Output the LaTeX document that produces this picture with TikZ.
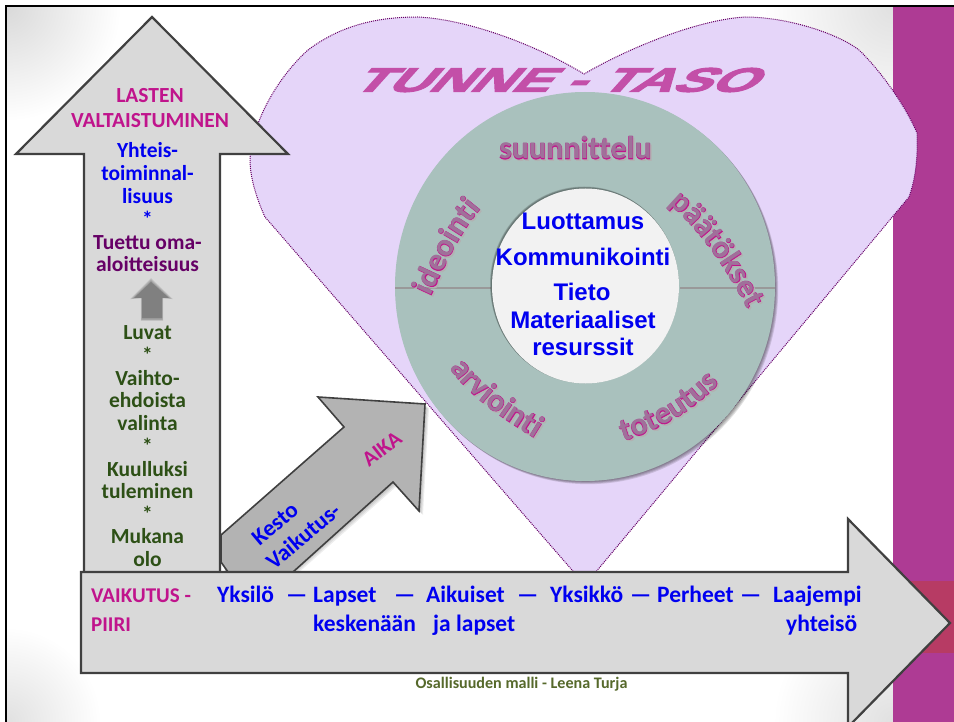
\documentclass[tikz,border=0pt]{standalone}
\usepackage{fontspec}
\usetikzlibrary{decorations.text}
\setmainfont{Carlito}
\newfontfamily\arialf{Liberation Sans}
\newfontfamily\titlef{Liberation Sans}[BoldFeatures={FakeBold=3}]
\newfontfamily\ringfat{Carlito}[BoldFeatures={FakeBold=2.0}]
\newfontfamily\ringthin{Carlito}
\definecolor{magA}{HTML}{C0148C}
\definecolor{purpA}{HTML}{660066}
\definecolor{greenA}{HTML}{2D5016}
\definecolor{blueA}{HTML}{0000F0}
\definecolor{bandA}{HTML}{AE3B94}
\definecolor{bandB}{HTML}{B73B64}
\definecolor{heartF}{HTML}{E5D5F9}
\definecolor{ringF}{HTML}{A9C1BD}
\definecolor{shaftF}{HTML}{D9D9D9}
\definecolor{edgeA}{HTML}{404040}
\definecolor{diagF}{HTML}{B3B3B3}
\definecolor{titleC}{HTML}{C34FA8}
\definecolor{ringTxt}{HTML}{A0709A}
\definecolor{creditC}{HTML}{56692B}
\tikzset{
  bigarrow/.style={fill=shaftF,draw=edgeA,line width=2.2pt,line join=miter},
  lbl/.style={font=\bfseries\fontsize{21.5}{24}\selectfont,align=center,inner sep=0pt,anchor=center},
  lblb/.style={font=\bfseries\fontsize{21.5}{24}\selectfont,inner sep=0pt,anchor=base},
  lblh/.style={font=\bfseries\fontsize{23.5}{26}\selectfont,inner sep=0pt,anchor=base west,text=blueA},
  lblv/.style={font=\bfseries\fontsize{21}{24}\selectfont,inner sep=0pt,anchor=base west,text=magA},
  lbld/.style={font=\bfseries\fontsize{23}{26}\selectfont,inner sep=0pt,anchor=center,text=blueA,rotate=40},
  ctr/.style={font=\arialf\bfseries\fontsize{24}{26}\selectfont,text=blueA,inner sep=0pt,anchor=center},
}
\newcommand{\ringlabel}[2]{%
  \path[xshift=1.5pt,yshift=-1.5pt,decorate,decoration={text along path,text align=center,
     text={|\ringfat\bfseries\fontsize{32}{34}\selectfont\color{black!30}|#2}}] #1;
  \path[decorate,decoration={text along path,text align=center,
     text={|\ringfat\bfseries\fontsize{32}{34}\selectfont\color{magA}|#2}}] #1;
  \path[decorate,decoration={text along path,text align=center,
     text={|\ringthin\bfseries\fontsize{32}{34}\selectfont\color{ringTxt}|#2}}] #1;
}
\begin{document}
\begin{tikzpicture}[x=1pt,y=-1pt]
\useasboundingbox (0,0) rectangle (954,722);
\fill[white] (0,0) rectangle (954,722);
\begin{scope}
\clip (6,6) rectangle (893,722);
\shade[inner color=black!15,outer color=white] (6,6) circle (115);
\shade[inner color=black!12,outer color=white] (893,6) circle (130);
\shade[inner color=black!12,outer color=white] (6,722) circle (95);
\shade[inner color=black!12,outer color=white] (893,722) circle (120);
\end{scope}
\fill[bandA] (893,6) rectangle (954,722);
\fill[bandB] (893,581) rectangle (954,653);
\draw[black,line width=2.6pt] (6,722) -- (6,6) -- (954,6);
% heart
\path[fill=heartF,draw=purpA,densely dotted,line width=1pt]
  (585,585) -- (265,217)
  .. controls (255,195) and (250,175) .. (250,160)
  .. controls (252,120) and (280,75) .. (308,50)
  .. controls (345,22) and (385,17) .. (418,17)
  .. controls (475,20) and (545,50) .. (584,74)
  .. controls (625,50) and (695,20) .. (745,17)
  .. controls (790,17) and (840,35) .. (859,50)
  .. controls (880,70) and (905,105) .. (917,133)
  .. controls (918,160) and (915,180) .. (909,197)
  -- cycle;
% title
\node[inner sep=0pt,text=titleC,font=\titlef\bfseries\fontsize{34}{34}\selectfont,
      xslant=.9,xscale=1.68,transform shape] (title) at (562,80) {TUNNE - TASO};
% ring
\foreach \o in {1,2,3,4}{\fill[black,opacity=.12] (585+\o*.8,286.5+\o*.8) ellipse [x radius=190,y radius=194.5];}
\fill[ringF] (585,286.5) ellipse [x radius=190,y radius=194.5];
\draw[black!40,line width=1.4pt] (395,288) -- (491,288) (680,288) -- (775,288);
\foreach \o in {1,2,3}{\fill[black,opacity=.15] (585.5-\o*.5,286-\o*.5) ellipse [x radius=94,y radius=98];}
\fill[white!95!black] (585.5,286) ellipse [x radius=93.5,y radius=97.5];
% ring labels
\ringlabel{(475,159) -- (676,159)}{suunnittelu}
\ringlabel{(430,298) .. controls (444,268) and (458,235) .. (482,207)}{ideointi}
\ringlabel{(668,203) .. controls (695,225) and (725,265) .. (748,310)}{päätökset}
\ringlabel{(446,362) .. controls (465,395) and (505,420) .. (541,442)}{arviointi}
\ringlabel{(617,443) .. controls (658,432) and (696,410) .. (724,378)}{toteutus}
% centre
\node[ctr] (c1) at (583,221) {Luottamus};
\node[ctr] (c2) at (583,257) {Kommunikointi};
\node[ctr] (c3) at (582,292) {Tieto};
\node[ctr] (c4) at (583,320) {Materiaaliset};
\node[ctr] (c5) at (583,347) {resurssit};
% diagonal arrow
\foreach \o in {1,2,3,4}{\fill[black,opacity=.07] (221+\o,535+\o) -- (344+\o,427+\o) -- (318+\o,397+\o) -- (425+\o,404+\o) -- (419+\o,511+\o) -- (393+\o,482+\o) -- (293+\o,570+\o) -- (225,572) -- cycle;}
\path[fill=diagF,draw=edgeA,line width=1.6pt,line join=miter]
  (221,535) -- (344,427) -- (318,397) -- (425,404) -- (419,511) -- (393,482) -- (293,572) -- (228,572) -- (221,562) -- cycle;
\node[lbld] (kesto) at (275,524) {Kesto};
\node[lbld] (vaik) at (303,536) {Vaikutus-};
\node[lbl,text=magA,rotate=38] (aika) at (382,449) {AIKA};
% up arrow
\path[bigarrow] (84,573) -- (84,154) -- (16,154) -- (152,17) -- (288,154) -- (220,154) -- (220,573) -- cycle;
\foreach \o in {1,2,3,4}{\fill[black,opacity=.08] (142-\o*.3,319+\o*.5) -- (142-\o*.3,298) -- (134-\o,298+\o*.3) -- (151,282-\o) -- (169+\o,298+\o*.3) -- (162+\o*.3,298) -- (162+\o*.3,319+\o*.5) -- cycle;}
\fill[black!50] (142,318) -- (142,298) -- (134,298) -- (151,282) -- (169,298) -- (162,298) -- (162,318) -- cycle;
\node[lblb,text=magA] (a1) at (150,103) {LASTEN};
\node[lblb,text=magA] (a2) at (150,128) {VALTAISTUMINEN};
\node[lblb,text=blueA] (b1) at (147.5,158) {Yhteis-};
\node[lblb,text=blueA] (b2) at (147.5,181) {toiminnal-};
\node[lblb,text=blueA] (b3) at (147.5,204) {lisuus};
\node[lbl,text=blueA] (b4) at (147.5,219) {*};
\node[lblb,text=purpA] (c6) at (147.5,250) {Tuettu oma-};
\node[lblb,text=purpA] (c7) at (147.5,272) {aloitteisuus};
\node[lblb,text=greenA] (d1) at (147.5,340) {Luvat};
\node[lbl,text=greenA] (d2) at (147.5,355) {*};
\node[lblb,text=greenA] (d3) at (147.5,385) {Vaihto-};
\node[lblb,text=greenA] (d4) at (147.5,407) {ehdoista};
\node[lblb,text=greenA] (d5) at (147.5,430) {valinta};
\node[lbl,text=greenA] (d6) at (147.5,446) {*};
\node[lblb,text=greenA] (d7) at (147.5,476) {Kuulluksi};
\node[lblb,text=greenA] (d8) at (147.5,498) {tuleminen};
\node[lbl,text=greenA] (d9) at (147.5,514) {*};
\node[lblb,text=greenA] (d10) at (147.5,543) {Mukana};
\node[lblb,text=greenA] (d11) at (147.5,566) {olo};
% horizontal arrow
\path[bigarrow] (81,572) -- (848,572) -- (848,519) -- (950,623) -- (848,727) -- (848,673) -- (81,673) -- cycle;
\node[lblv] (v1) at (91,602) {VAIKUTUS -};
\node[lblv] (v2) at (91,631) {PIIRI};
\node[lblh] (h1) at (217,602) {Yksilö};
\node[lblh] (h2) at (286,602) {—};
\node[lblh] (h3) at (313,602) {Lapset};
\node[lblh] (h4) at (394,602) {—};
\node[lblh] (h5) at (426,602) {Aikuiset};
\node[lblh] (h6) at (517,602) {—};
\node[lblh] (h7) at (550,602) {Yksikkö};
\node[lblh] (h8) at (630,602) {—};
\node[lblh] (h9) at (657,602) {Perheet};
\node[lblh] (h10) at (740,602) {—};
\node[lblh] (h11) at (773,602) {Laajempi};
\node[lblh] (k1) at (313,631) {keskenään};
\node[lblh] (k2) at (433,631) {ja lapset};
\node[lblh] (k3) at (786,631) {yhteisö};
\node[font=\bfseries\fontsize{16.1}{18}\selectfont,text=creditC,inner sep=0pt] (cr) at (521.5,684) {Osallisuuden malli - Leena Turja};
\end{tikzpicture}
\end{document}
